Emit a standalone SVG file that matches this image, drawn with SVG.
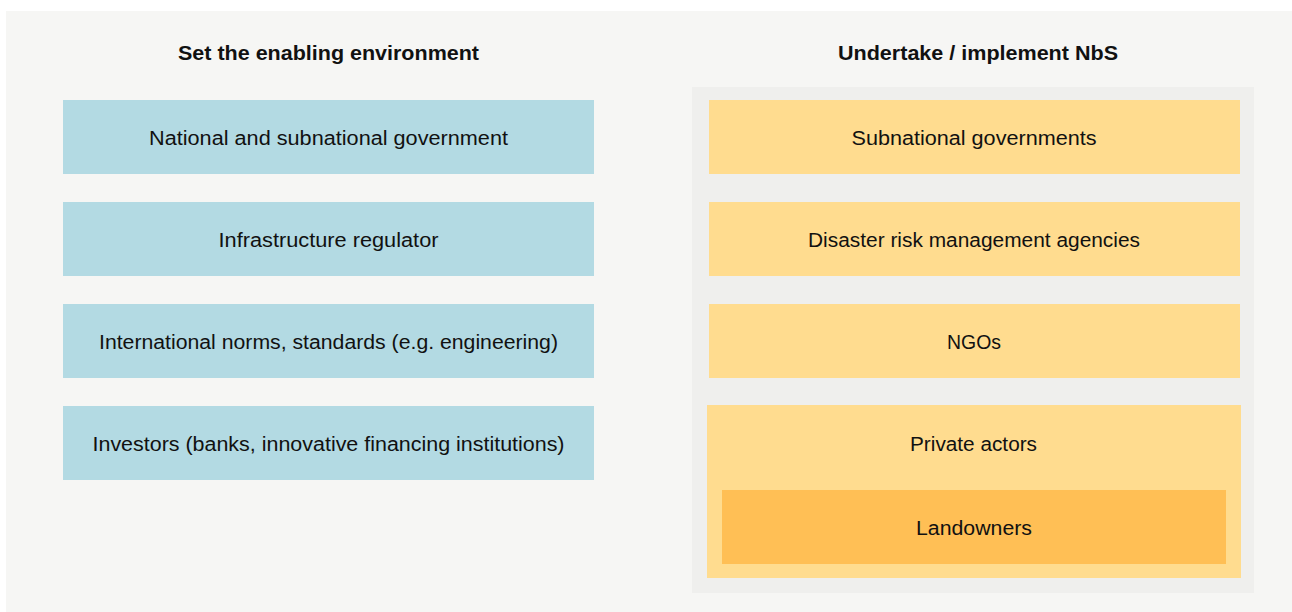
<svg xmlns="http://www.w3.org/2000/svg" width="1292" height="612" viewBox="0 0 1292 612">
<style>
.lbl{font-family:"Liberation Sans",Arial,sans-serif;font-size:20px;fill:#111;text-anchor:middle}
.ttl{font-family:"Liberation Sans",Arial,sans-serif;font-size:20px;font-weight:bold;fill:#111;text-anchor:middle}
.blue{fill:#b3dae3}
.yel{fill:#ffdc8f}
.org{fill:#ffbf55}
</style>
<rect x="0" y="0" width="1292" height="612" fill="#ffffff"/>
<rect x="6" y="11" width="1286" height="601" fill="#f6f6f4"/>
<text class="ttl" x="328.5" y="60" textLength="301" lengthAdjust="spacingAndGlyphs">Set the enabling environment</text>
<text class="ttl" x="978" y="60" textLength="280" lengthAdjust="spacingAndGlyphs">Undertake / implement NbS</text>
<rect id="right-container" x="692" y="87" width="562" height="506" fill="#efefed"/>
<g id="n1"><rect class="blue" x="63" y="100" width="531" height="74"/><text class="lbl" x="328.5" y="145" textLength="359" lengthAdjust="spacingAndGlyphs">National and subnational government</text></g>
<g id="n2"><rect class="blue" x="63" y="202" width="531" height="74"/><text class="lbl" x="328.5" y="247" textLength="220" lengthAdjust="spacingAndGlyphs">Infrastructure regulator</text></g>
<g id="n3"><rect class="blue" x="63" y="304" width="531" height="74"/><text class="lbl" x="328.5" y="349" textLength="459" lengthAdjust="spacingAndGlyphs">International norms, standards (e.g. engineering)</text></g>
<g id="n4"><rect class="blue" x="63" y="406" width="531" height="74"/><text class="lbl" x="328.5" y="451" textLength="472" lengthAdjust="spacingAndGlyphs">Investors (banks, innovative financing institutions)</text></g>
<g id="n5"><rect class="yel" x="709" y="100" width="531" height="74"/><text class="lbl" x="974" y="145" textLength="245" lengthAdjust="spacingAndGlyphs">Subnational governments</text></g>
<g id="n6"><rect class="yel" x="709" y="202" width="531" height="74"/><text class="lbl" x="974" y="247" textLength="332" lengthAdjust="spacingAndGlyphs">Disaster risk management agencies</text></g>
<g id="n7"><rect class="yel" x="709" y="304" width="531" height="74"/><text class="lbl" x="974" y="349" textLength="54" lengthAdjust="spacingAndGlyphs">NGOs</text></g>
<g id="n8"><rect class="yel" x="707" y="405" width="534" height="173"/><text class="lbl" x="973.5" y="451" textLength="127" lengthAdjust="spacingAndGlyphs">Private actors</text></g>
<g id="n9"><rect class="org" x="722" y="490" width="504" height="74"/><text class="lbl" x="974" y="535" textLength="116" lengthAdjust="spacingAndGlyphs">Landowners</text></g>
<g id="connectors"></g>
</svg>
